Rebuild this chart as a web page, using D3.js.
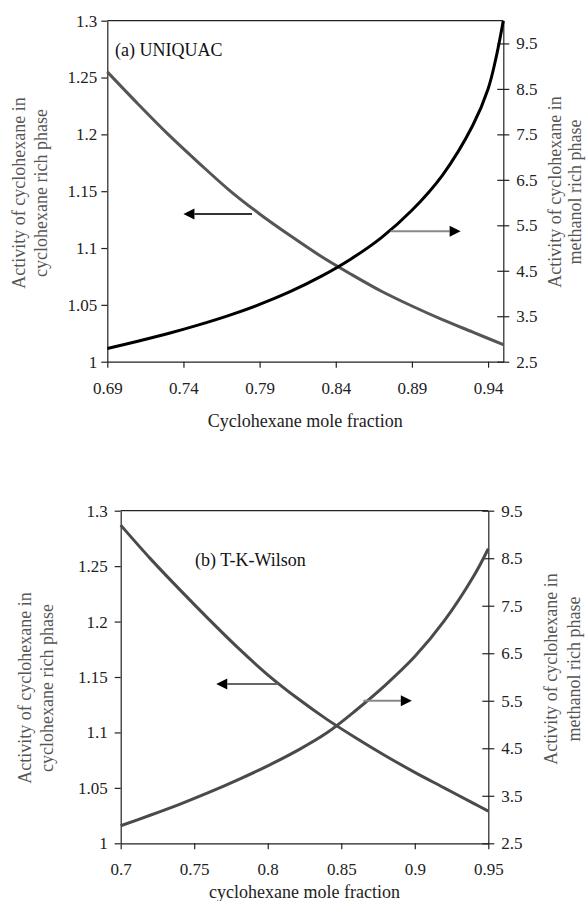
<!DOCTYPE html>
<html>
<head>
<meta charset="utf-8">
<script src="https://cdn.jsdelivr.net/npm/d3@7"></script>
<style>
  body { margin: 0; background: #fff; }
  svg text { font-family: "Liberation Serif", "Times New Roman", serif; }
</style>
</head>
<body>
<div id="chart"></div>
<script>
// ---- data: (a) UNIQUAC ----
const xGrayA = [0.69, 0.71, 0.73, 0.75, 0.77, 0.79, 0.81, 0.83, 0.85, 0.87, 0.89, 0.91, 0.93, 0.95];
const yGrayA = [1.255, 1.227, 1.200, 1.175, 1.151, 1.130, 1.111, 1.093, 1.077, 1.062, 1.049, 1.037, 1.026, 1.015];
const xBlackA = [0.69, 0.71, 0.73, 0.75, 0.77, 0.79, 0.81, 0.83, 0.85, 0.87, 0.89, 0.91, 0.93, 0.94, 0.945, 0.95];
const yBlackA = [2.79, 2.95, 3.12, 3.31, 3.52, 3.76, 4.04, 4.37, 4.76, 5.23, 5.83, 6.60, 7.70, 8.50, 9.15, 10.0];

// ---- data: (b) T-K-Wilson ----
const xB = [0.70, 0.72, 0.74, 0.76, 0.78, 0.80, 0.82, 0.84, 0.86, 0.88, 0.90, 0.92, 0.94, 0.95];
const yGrayB = [1.287, 1.257, 1.229, 1.202, 1.176, 1.152, 1.131, 1.112, 1.095, 1.079, 1.064, 1.050, 1.036, 1.029];
const yRisingB = [2.87, 3.09, 3.32, 3.57, 3.84, 4.13, 4.45, 4.82, 5.30, 5.83, 6.43, 7.18, 8.12, 8.70];

// ---- ticks ----
const xTicksA = [0.69, 0.74, 0.79, 0.84, 0.89, 0.94];
const xTicksB = [0.70, 0.75, 0.80, 0.85, 0.90, 0.95];
const leftTicks = [1, 1.05, 1.1, 1.15, 1.2, 1.25, 1.3];
const rightTicks = [2.5, 3.5, 4.5, 5.5, 6.5, 7.5, 8.5, 9.5];

// ---- arrows [x from, x to, y] (tail -> head) ----
const arrowLeftA = [0.785, 0.740, 1.130];
const arrowRightA = [0.876, 0.922, 5.37];
const arrowLeftB = [0.807, 0.765, 1.1437];
const arrowRightB = [0.865, 0.898, 5.50];

const W = 586, H = 901;
const svg = d3.select("#chart").append("svg")
  .attr("width", W).attr("height", H);

const panels = [
  {
    box: { l: 107.3, r: 503.3, t: 20.7, b: 361.7 },
    xDomain: [0.69, 0.95], yLDomain: [1, 1.3], yRDomain: [2.5, 10],
    xTicks: xTicksA, xFmt: d3.format(".2f"), lPad: 4,
    series: [
      { x: xGrayA, y: yGrayA, axis: "L", color: "#555" },
      { x: xBlackA, y: yBlackA, axis: "R", color: "#000" }
    ],
    arrows: [
      { a: arrowLeftA, axis: "L", color: "#333" },
      { a: arrowRightA, axis: "R", color: "#888" }
    ],
    title: "(a) UNIQUAC", titleX: 115, titleY: 56,
    xTitle: "Cyclohexane mole fraction", xTitleY: 427,
    lTitle: { x1: 25, x2: 47, y: 193 },
    rTitle: { x1: 561, x2: 581, y: 192 }
  },
  {
    box: { l: 120.7, r: 488.3, t: 510.7, b: 843.3 },
    xDomain: [0.70, 0.95], yLDomain: [1, 1.3], yRDomain: [2.5, 9.5],
    xTicks: xTicksB, xFmt: d3.format(".2~f"), lPad: 7,
    series: [
      { x: xB, y: yGrayB, axis: "L", color: "#4a4a4a" },
      { x: xB, y: yRisingB, axis: "R", color: "#4a4a4a" }
    ],
    arrows: [
      { a: arrowLeftB, axis: "L", color: "#666" },
      { a: arrowRightB, axis: "R", color: "#888" }
    ],
    title: "(b) T-K-Wilson", titleX: 195, titleY: 566,
    xTitle: "cyclohexane mole fraction", xTitleY: 898,
    lTitle: { x1: 31, x2: 53, y: 688 },
    rTitle: { x1: 557, x2: 580, y: 669 }
  }
];

panels.forEach(p => {
  const b = p.box;
  const x = d3.scaleLinear().domain(p.xDomain).range([b.l, b.r]);
  const yL = d3.scaleLinear().domain(p.yLDomain).range([b.b, b.t]);
  const yR = d3.scaleLinear().domain(p.yRDomain).range([b.b, b.t]);
  const g = svg.append("g");

  // top border
  g.append("line")
    .attr("x1", b.l).attr("x2", b.r).attr("y1", b.t).attr("y2", b.t)
    .attr("stroke", "#222").attr("stroke-width", 1.2);

  // axes
  const xAxis = g.append("g")
    .attr("transform", "translate(0," + b.b + ")")
    .call(d3.axisBottom(x).tickValues(p.xTicks).tickFormat(p.xFmt)
      .tickSize(6).tickSizeOuter(0).tickPadding(14));

  const lAxis = g.append("g")
    .attr("transform", "translate(" + b.l + ",0)")
    .call(d3.axisLeft(yL).tickValues(leftTicks).tickFormat(d3.format(".2~f"))
      .tickSize(6).tickSizeOuter(0).tickPadding(p.lPad));

  const rAxis = g.append("g")
    .attr("transform", "translate(" + b.r + ",0)")
    .call(d3.axisRight(yR).tickValues(rightTicks).tickFormat(d3.format(".1f"))
      .tickSize(6).tickSizeOuter(0).tickPadding(7));
  rAxis.selectAll(".tick line").attr("x1", -6);

  [xAxis, lAxis, rAxis].forEach(a => {
    a.select(".domain").attr("stroke", "#222").attr("stroke-width", 1.2);
    a.selectAll(".tick line").attr("stroke", "#222").attr("stroke-width", 1.2);
    a.selectAll(".tick text").attr("font-size", 17).attr("fill", "#222")
      .style("font-family", '"Liberation Serif", serif');
  });

  // curves
  p.series.forEach(s => {
    const ys = s.axis === "L" ? yL : yR;
    const pts = s.x.map((v, i) => [v, s.y[i]]);
    g.append("path")
      .datum(pts)
      .attr("fill", "none")
      .attr("stroke", s.color)
      .attr("stroke-width", 3)
      .attr("d", d3.line().x(d => x(d[0])).y(d => ys(d[1])).curve(d3.curveCatmullRom.alpha(0.5)));
  });

  // arrows
  p.arrows.forEach(ar => {
    const ys = ar.axis === "L" ? yL : yR;
    const x0 = x(ar.a[0]), x1 = x(ar.a[1]), yy = ys(ar.a[2]);
    const dir = x1 > x0 ? 1 : -1;
    const head = 11;
    g.append("line")
      .attr("x1", x0).attr("x2", x1 - dir * head).attr("y1", yy).attr("y2", yy)
      .attr("stroke", ar.color).attr("stroke-width", 2);
    g.append("path")
      .attr("d", d3.line()([[x1, yy], [x1 - dir * head, yy - 5.5], [x1 - dir * head, yy + 5.5]]) + "Z")
      .attr("fill", "#000");
  });

  // texts
  g.append("text")
    .attr("x", p.titleX).attr("y", p.titleY)
    .attr("font-size", 18).attr("fill", "#111")
    .text(p.title);

  g.append("text")
    .attr("x", (b.l + b.r) / 2).attr("y", p.xTitleY)
    .attr("text-anchor", "middle")
    .attr("font-size", 18).attr("fill", "#222")
    .text(p.xTitle);

  const vTitle = (xx, yy, txt) => g.append("text")
    .attr("transform", "translate(" + xx + "," + yy + ") rotate(-90)")
    .attr("text-anchor", "middle")
    .attr("font-size", 18).attr("fill", "#555")
    .text(txt);

  vTitle(p.lTitle.x1, p.lTitle.y, "Activity of cyclohexane in");
  vTitle(p.lTitle.x2, p.lTitle.y, "cyclohexane rich phase");
  vTitle(p.rTitle.x1, p.rTitle.y, "Activity of cyclohexane in");
  vTitle(p.rTitle.x2, p.rTitle.y, "methanol rich phase");
});
</script>
</body>
</html>
